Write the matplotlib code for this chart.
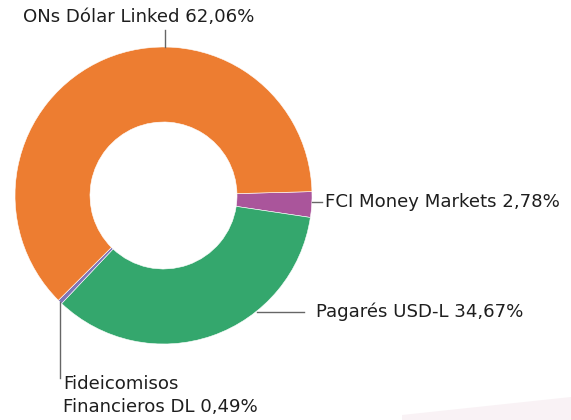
import matplotlib.pyplot as plt
from matplotlib.patches import Polygon

# Data
labels = ["FCI Money Markets", "Pagarés USD-L", "Fideicomisos\nFinancieros DL", "ONs Dólar Linked"]
shares = [2.78, 34.67, 0.49, 62.06]
colors = ["#AA559B", "#34A76D", "#8074B6", "#ED7D31"]

plt.rcParams['font.family'] = ['DejaVu Sans']

fig = plt.figure(figsize=(5.71, 4.2), dpi=100)
ax = fig.add_axes([0, 0, 1, 1])

# faint background decoration bottom right
ax.add_patch(Polygon([(402, 5), (571, 23), (571, 0), (402, 0)],
                     closed=True, facecolor="#F9F2F5", edgecolor="none", zorder=0))

wedges, _ = ax.pie(shares, colors=colors, startangle=1.5, counterclock=False,
                   center=(163.5, 224.5), radius=148.5,
                   wedgeprops=dict(width=75, edgecolor="white", linewidth=0.4))

ax.set_xlim(0, 571)
ax.set_ylim(0, 420)
ax.set_aspect("equal")
ax.axis("off")

txt = dict(fontsize=13.1, color="#1e1e1e")
line = dict(color="#666666", lw=1)

def fmt(v):
    return f"{v:.2f}".replace(".", ",") + "%"

# ONs Dólar Linked
ax.plot([165, 165], [390, 373], **line)
ax.text(139, 403, f"{labels[3]} {fmt(shares[3])}", ha="center", va="center", **txt)

# FCI Money Markets
ax.plot([312, 322], [218, 218], **line)
ax.text(325, 218, f"{labels[0]} {fmt(shares[0])}", ha="left", va="center", **txt)

# Pagarés
ax.plot([257, 304], [108, 108], **line)
ax.text(316, 108, f"{labels[1]} {fmt(shares[1])}", ha="left", va="center", **txt)

# Fideicomisos
ax.plot([60, 60], [118, 42], **line)
ax.text(63, 24.5, f"{labels[2]} {fmt(shares[2])}", ha="left", va="center",
        linespacing=1.3, **txt)

fig.savefig("out.png", dpi=100)
